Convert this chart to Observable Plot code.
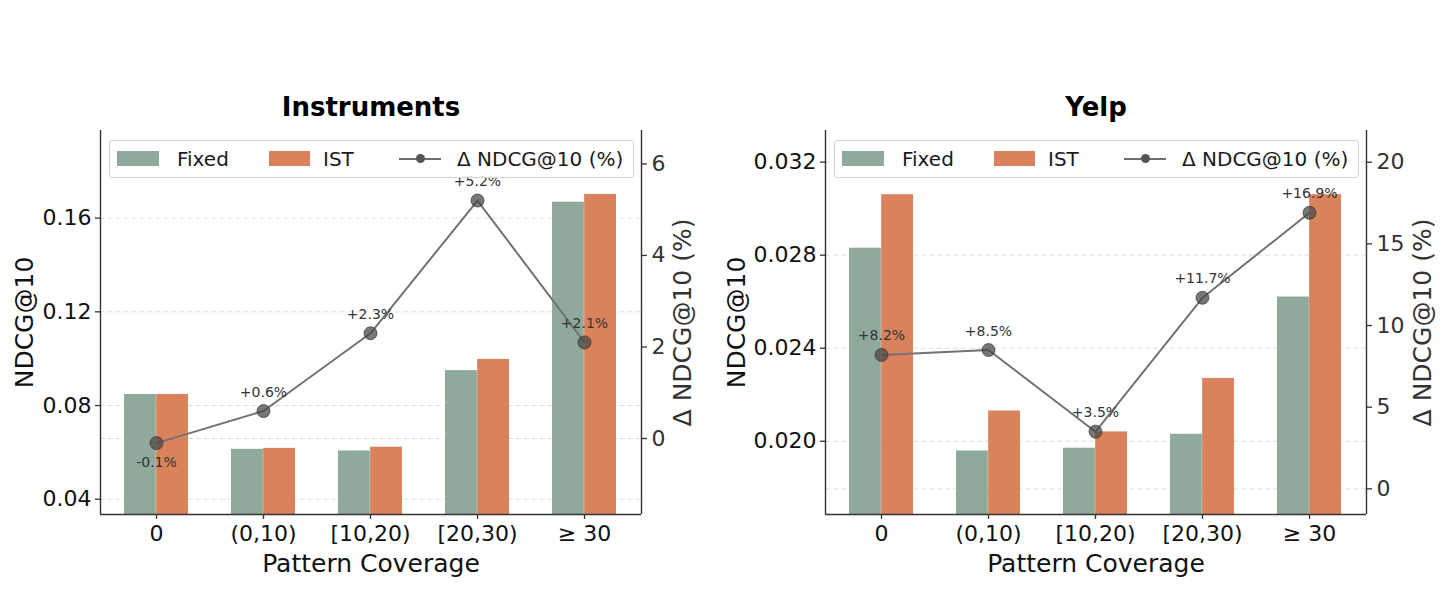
<!DOCTYPE html>
<html>
<head>
<meta charset="utf-8">
<script src="https://cdn.jsdelivr.net/npm/d3@7"></script>
<script src="https://cdn.jsdelivr.net/npm/@observablehq/plot@0.6"></script>
<style>
  body { margin: 0; background: #fff; font-family: "DejaVu Sans", sans-serif; }
  #root { position: relative; width: 1449px; height: 612px; overflow: hidden; }
  .panel { position: absolute; top: 0; width: 725px; height: 612px; }
  .panel > svg { position: absolute; left: 0; top: 0; }
  .legend { position: absolute; left: 108.5px; top: 140px; width: 523px; height: 35.5px;
            border: 1.2px solid #d4d4d4; border-radius: 3px; background: rgba(255,255,255,0.85); }
  .legend .patch { position: absolute; height: 15px; }
  .legend .lab { position: absolute; font-size: 20px; line-height: 20px; color: #1a1a1a; white-space: nowrap; }
  .legend .hline { position: absolute; height: 2px; background: #6e6e6e; }
  .legend .hdot { position: absolute; width: 9px; height: 9px; border-radius: 50%; background: #555; }
</style>
</head>
<body>
<div id="root"></div>
<script>
// ---- data ----
const categories = ["0", "(0,10)", "[10,20)", "[20,30)", "≥ 30"];

const instrumentsFixed = [0.0847, 0.0613, 0.0606, 0.0949, 0.1668];
const instrumentsIST   = [0.0847, 0.0617, 0.0622, 0.0997, 0.1701];
const instrumentsDelta = [-0.1, 0.6, 2.3, 5.2, 2.1];

const yelpFixed = [0.0283, 0.01958, 0.0197, 0.0203, 0.0262];
const yelpIST   = [0.0306, 0.0213, 0.0204, 0.0227, 0.0306];
const yelpDelta = [8.2, 8.5, 3.5, 11.7, 16.9];

const instrumentsTicks = [0.04, 0.08, 0.12, 0.16];
const instrumentsDeltaTicks = [0, 2, 4, 6];
const yelpTicks = [0.020, 0.024, 0.028, 0.032];
const yelpDeltaTicks = [0, 5, 10, 15, 20];

const seriesNames = ["Fixed", "IST"];
const deltaName = "Δ NDCG@10 (%)";
const yLabel = "NDCG@10";
const xLabel = "Pattern Coverage";

// ---- layout / style ----
const W = 725, H = 612, ML = 100, MR = 84, MT = 130, MB = 98;
const colFixed = "#8faa9b", colIST = "#d9825b";
const padInner = 0.4, padOuter = 0.2235;
const frameW = W - ML - MR;
const step = frameW / (categories.length - padInner + 2 * padOuter);
const halfBand = step * (1 - padInner) / 2;
const FONT = "DejaVu Sans";
const SPINE = "#333";
const GRID = "#dedede";

const panels = [
  { title: "Instruments", fixed: instrumentsFixed, ist: instrumentsIST, delta: instrumentsDelta,
    yDomain: [0.03348, 0.1974], rDomain: [-1.66, 6.73], yTicks: instrumentsTicks, rTicks: instrumentsDeltaTicks,
    fmt: d3.format(".2f"), yLabelDx: -76, rLabelDx: 41, left: 0 },
  { title: "Yelp", fixed: yelpFixed, ist: yelpIST, delta: yelpDelta,
    yDomain: [0.01685, 0.03336], rDomain: [-1.57, 21.94], yTicks: yelpTicks, rTicks: yelpDeltaTicks,
    fmt: d3.format(".3f"), yLabelDx: -89, rLabelDx: 56, left: 725 }
];

const common = {
  width: W, height: H, marginLeft: ML, marginRight: MR, marginTop: MT, marginBottom: MB,
  style: { background: "transparent", fontFamily: FONT, fontSize: "22px", overflow: "visible" }
};
const xScale = { type: "band", domain: categories, paddingInner: padInner, paddingOuter: padOuter, label: null };

const root = document.getElementById("root");

for (const p of panels) {
  const rows = categories.map((c, i) => ({ category: c, fixed: p.fixed[i], ist: p.ist[i], delta: p.delta[i] }));
  const div = document.createElement("div");
  div.className = "panel";
  div.style.left = p.left + "px";
  root.appendChild(div);

  // layer 1: right-axis zero gridline (behind bars)
  const gridR = Plot.plot({
    ...common,
    x: { ...xScale, axis: null },
    y: { domain: p.rDomain, axis: null },
    marks: [
      Plot.ruleY([0], { stroke: GRID, strokeWidth: 1, strokeDasharray: "5,3" })
    ]
  });
  div.appendChild(gridR);

  // layer 2: bars + left axis
  const bars = Plot.plot({
    ...common,
    x: xScale,
    y: { domain: p.yDomain, label: null },
    marks: [
      Plot.gridY(p.yTicks, { stroke: GRID, strokeOpacity: 1, strokeWidth: 1, strokeDasharray: "5,3" }),
      Plot.barY(rows, { x: "category", y: "fixed", fill: colFixed, insetRight: halfBand, clip: true }),
      Plot.barY(rows, { x: "category", y: "ist", fill: colIST, insetLeft: halfBand, clip: true }),
      Plot.axisY(p.yTicks, { tickFormat: p.fmt, tickSize: 5, tickPadding: 4, fill: "#111", stroke: SPINE,
                             strokeWidth: 1.3, label: null }),
      Plot.axisX({ tickSize: 5, tickPadding: 6, fill: "#111", stroke: SPINE, strokeWidth: 1.3, label: null }),
      Plot.text([yLabel], { frameAnchor: "left", textAnchor: "middle", lineAnchor: "middle", dx: p.yLabelDx,
                            rotate: -90, fontSize: 25, fill: "#111" }),
      Plot.text([xLabel], { frameAnchor: "bottom", textAnchor: "middle", lineAnchor: "middle", dy: 49,
                            fontSize: 25, fill: "#111" }),
      Plot.text([p.title], { frameAnchor: "top", textAnchor: "middle", lineAnchor: "middle", dy: -23,
                             fontSize: 26, fontWeight: "bold", fill: "#000" })
    ]
  });
  div.appendChild(bars);

  // layer 3: delta line + right axis
  const line = Plot.plot({
    ...common,
    x: { ...xScale, axis: null },
    y: { domain: p.rDomain, label: null, axis: null },
    marks: [
      Plot.axisY(p.rTicks, { anchor: "right", tickSize: 5, tickPadding: 5, fill: "#333", stroke: SPINE,
                             strokeWidth: 1.3, label: null }),
      Plot.line(rows, { x: "category", y: "delta", stroke: "#727272", strokeWidth: 2 }),
      Plot.dot(rows, { x: "category", y: "delta", r: 6.5, fill: "#4a4a4a", fillOpacity: 0.75,
                       stroke: "#333", strokeOpacity: 0.7, strokeWidth: 1 }),
      Plot.text(rows.filter(d => d.delta >= 0), { x: "category", y: "delta", text: d => `+${d.delta.toFixed(1)}%`,
                       dy: -19, fontSize: 14, fill: "#333" }),
      Plot.text(rows.filter(d => d.delta < 0), { x: "category", y: "delta", text: d => `${d.delta.toFixed(1)}%`,
                       dy: 19, fontSize: 14, fill: "#333" }),
      Plot.text([deltaName], { frameAnchor: "right", textAnchor: "middle", lineAnchor: "middle", dx: p.rLabelDx,
                               rotate: -90, fontSize: 25, fill: "#333" })
    ]
  });
  div.appendChild(line);

  // layer 4: spines (left, right, bottom; no top) on a unit helper frame
  const spines = Plot.plot({
    ...common,
    x: { domain: [0, 1], axis: null },
    y: { domain: [0, 1], axis: null },
    marks: [
      Plot.ruleX([0, 1], { stroke: SPINE, strokeWidth: 1.4 }),
      Plot.ruleY([0], { stroke: SPINE, strokeWidth: 1.4 })
    ]
  });
  div.appendChild(spines);

  // legend
  const lg = document.createElement("div");
  lg.className = "legend";
  const items = [
    { type: "patch", color: colFixed, x: 7.5, w: 42, text: seriesNames[0], tx: 67.5 },
    { type: "patch", color: colIST, x: 159.5, w: 41, text: seriesNames[1], tx: 213.5 },
    { type: "line", x: 289.5, w: 42, text: deltaName, tx: 347.5 }
  ];
  for (const it of items) {
    if (it.type === "patch") {
      const s = document.createElement("div");
      s.className = "patch";
      s.style.left = it.x + "px"; s.style.top = "9.5px"; s.style.width = it.w + "px"; s.style.background = it.color;
      lg.appendChild(s);
    } else {
      const l = document.createElement("div");
      l.className = "hline";
      l.style.left = it.x + "px"; l.style.top = "16.5px"; l.style.width = it.w + "px";
      lg.appendChild(l);
      const d = document.createElement("div");
      d.className = "hdot";
      d.style.left = (it.x + it.w / 2 - 4.5) + "px"; d.style.top = "13px";
      lg.appendChild(d);
    }
    const t = document.createElement("div");
    t.className = "lab";
    t.textContent = it.text;
    t.style.left = it.tx + "px"; t.style.top = "7.5px";
    lg.appendChild(t);
  }
  div.appendChild(lg);
}
</script>
</body>
</html>
